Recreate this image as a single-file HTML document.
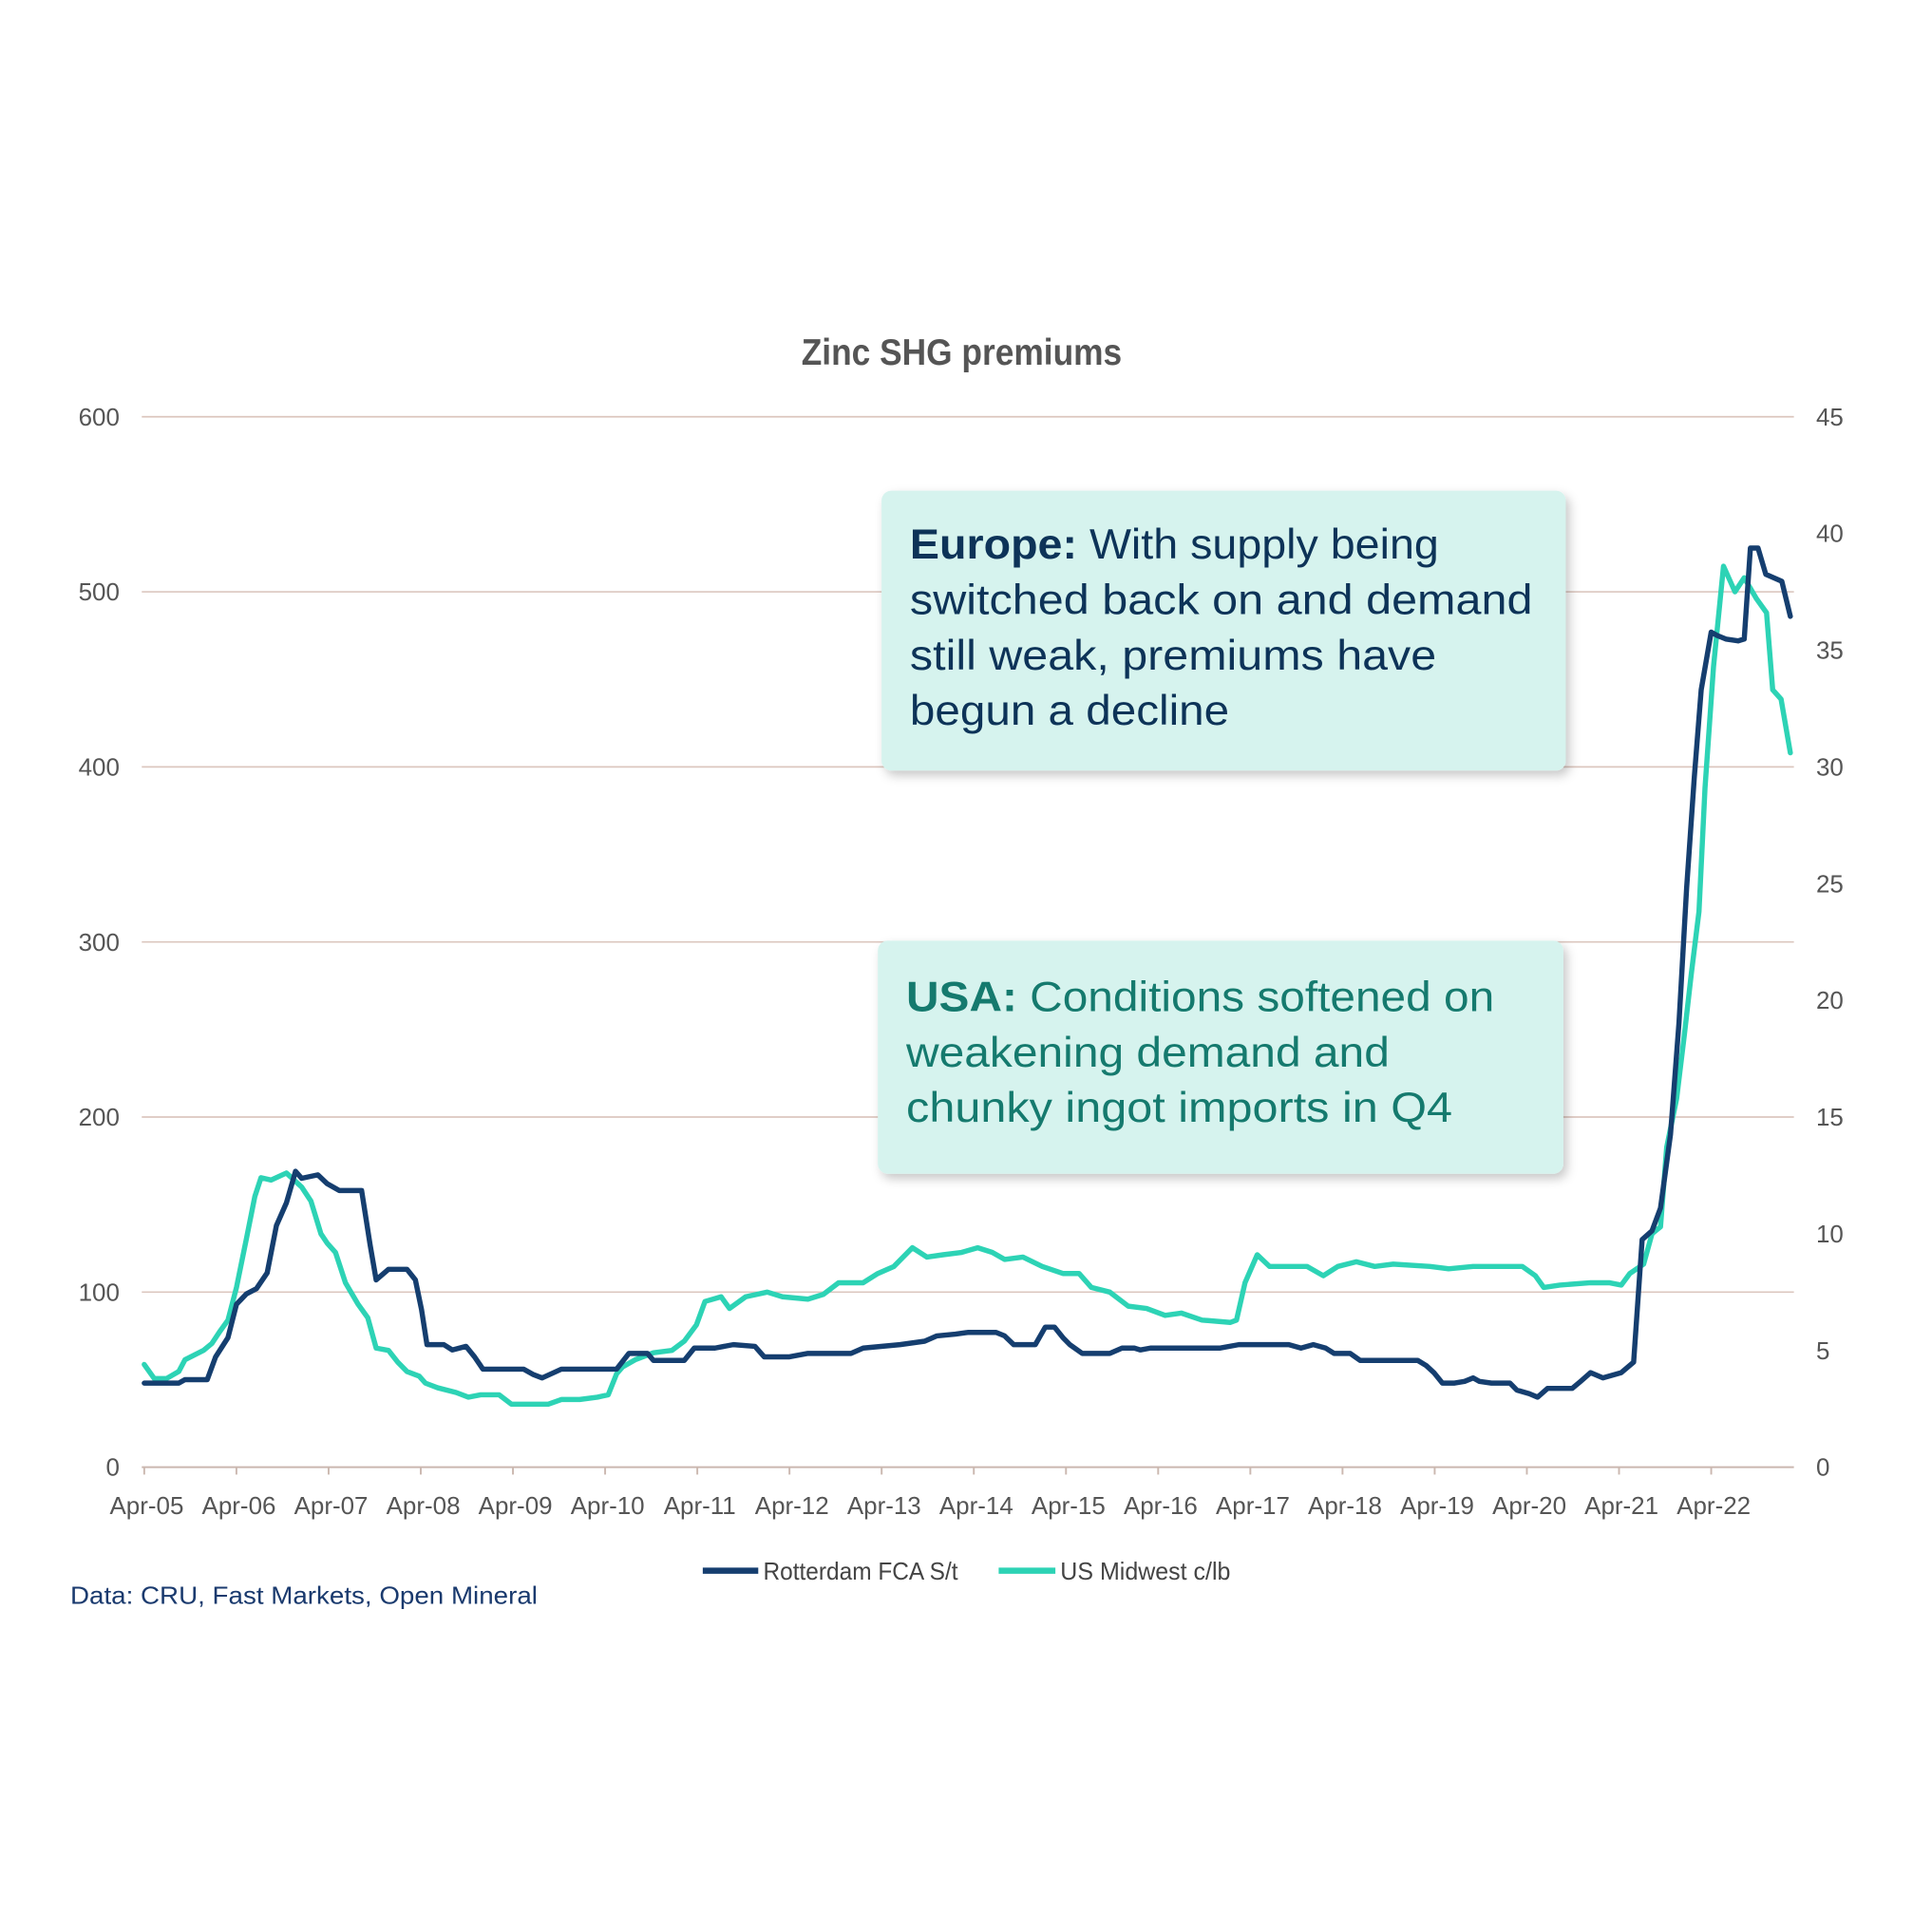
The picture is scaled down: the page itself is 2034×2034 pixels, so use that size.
<!DOCTYPE html>
<html><head><meta charset="utf-8"><style>
html,body{margin:0;padding:0;background:#fff;}
svg{display:block;font-family:"Liberation Sans",sans-serif;}
</style></head><body>
<svg id="chart" width="2034" height="2034" viewBox="0 0 1567 1567" xmlns="http://www.w3.org/2000/svg">
<defs>
<filter id="sh" x="-5%" y="-5%" width="115%" height="120%"><feDropShadow dx="3" dy="4" stdDeviation="4" flood-color="#000" flood-opacity="0.22"/></filter>
</defs>
<rect width="1567" height="1567" fill="#fff"/>
<text x="650" y="296" font-size="30" fill="#555" font-weight="600" textLength="260" lengthAdjust="spacingAndGlyphs" font-family="Liberation Sans Narrow, Liberation Sans, sans-serif">Zinc SHG premiums</text>
<g id="grid"></g>
<g id="axes"></g>
<g id="series"></g>
<g>
<rect x="715" y="398" width="555" height="227" rx="8" fill="#d6f3ee" filter="url(#sh)"/>
<text x="738" y="453" font-size="34" fill="#0d3358" textLength="429" lengthAdjust="spacingAndGlyphs"><tspan font-weight="bold">Europe:</tspan> With supply being</text>
<text x="738" y="498" font-size="34" fill="#0d3358" textLength="505" lengthAdjust="spacingAndGlyphs">switched back on and demand</text>
<text x="738" y="543" font-size="34" fill="#0d3358" textLength="427" lengthAdjust="spacingAndGlyphs">still weak, premiums have</text>
<text x="738" y="588" font-size="34" fill="#0d3358" textLength="259" lengthAdjust="spacingAndGlyphs">begun a decline</text>
</g>
<g>
<rect x="712" y="763" width="556" height="189" rx="8" fill="#d6f3ee" filter="url(#sh)"/>
<text x="735" y="820" font-size="34" fill="#157a6e" textLength="477" lengthAdjust="spacingAndGlyphs"><tspan font-weight="bold">USA:</tspan> Conditions softened on</text>
<text x="735" y="865" font-size="34" fill="#157a6e" textLength="392" lengthAdjust="spacingAndGlyphs">weakening demand and</text>
<text x="735" y="910" font-size="34" fill="#157a6e" textLength="443" lengthAdjust="spacingAndGlyphs">chunky ingot imports in Q4</text>
</g>
<g>
<line x1="570" y1="1274" x2="615" y2="1274" stroke="#153e6f" stroke-width="5"/>
<text x="619" y="1281" font-size="20" fill="#444" textLength="158" lengthAdjust="spacingAndGlyphs" font-family="Liberation Sans Narrow, Liberation Sans, sans-serif">Rotterdam FCA S/t</text>
<line x1="810" y1="1274" x2="856" y2="1274" stroke="#2dd3b5" stroke-width="5"/>
<text x="860" y="1281" font-size="20" fill="#444" textLength="138" lengthAdjust="spacingAndGlyphs" font-family="Liberation Sans Narrow, Liberation Sans, sans-serif">US Midwest c/lb</text>
</g>
<text x="57" y="1301" font-size="20" fill="#1a3a6e" textLength="379" lengthAdjust="spacingAndGlyphs">Data: CRU, Fast Markets, Open Mineral</text>
</svg>
<script>
const xLabels=["Apr-05","Apr-06","Apr-07","Apr-08","Apr-09","Apr-10","Apr-11","Apr-12","Apr-13","Apr-14","Apr-15","Apr-16","Apr-17","Apr-18","Apr-19","Apr-20","Apr-21","Apr-22"];
const leftTicks=[0,100,200,300,400,500,600];
const rightTicks=[0,5,10,15,20,25,30,35,40,45];
const rotMonths=[0,4.5,5.3,8.2,9.3,10.9,12,13.3,14.6,16,17.2,18.5,19.7,20.5,22.6,23.8,25.4,28.3,29.4,30.2,31.8,34.2,35.3,36.1,36.8,39,40.1,41.9,43,44.1,49.4,50.6,51.8,54.3,61.5,63.1,65.5,66.3,70.3,71.6,74.3,76.7,79.5,80.7,84,86.4,92,93.6,98.4,101.6,103.2,105.6,107.2,110.9,112,113.2,116,117.3,118.5,119.6,120.5,122.1,125.7,127.3,128.9,129.7,131,140,142.5,149,150.6,152.2,153.8,154.9,157,158.3,165.8,166.9,167.9,169,170.6,171.9,173,173.8,175.4,177.8,178.7,180.3,181.4,182.7,185.9,187,188.3,189.9,192.3,193.9,195,196.3,197.4,198.7,199.8,200.8,201.8,202.7,204,204.8,205.9,207.5,208.3,209.1,210.1,211.1,213.2,214.3];
const rotValues=[48,48,50,50,63,74,93,99,102,111,138,151,169,165,167,162,158,158,127,107,113,113,107,90,70,70,67,69,63,56,56,53,51,56,56,65,65,61,61,68,68,70,69,63,63,65,65,68,70,72,75,76,77,77,75,70,70,80,80,74,70,65,65,68,68,67,68,68,70,70,68,70,68,65,65,61,61,58,54,48,48,49,51,49,48,48,44,42,40,45,45,49,54,51,54,60,130,135,148,190,254,331,394,444,477,475,473,472,473,525,525,510,506,486];
const usMonths=[0,1.3,2.9,4.5,5.3,7.7,8.8,9.8,10.9,12,13.3,14.4,15.2,16.5,18.5,20.5,21.7,23,23.8,24.9,26.2,27.8,29.1,30.2,31.8,33,34.2,35.8,36.6,38.2,40.6,42.2,43.8,46.2,47.8,52.6,54.3,56.7,59,60.4,61.5,62.3,63.9,66.3,68.7,70.3,71.9,73,75.1,76.2,78.3,81.1,83.1,86.4,88.4,90.4,93.6,95.5,97.6,100,101.9,104,106.4,108.5,110.4,112,114.4,116.9,119.6,121.7,123.3,125.7,128.1,130.5,132.9,135,137.7,141.4,142.2,143.3,144.9,146.5,151.4,153.5,155.4,157.8,160.2,162.6,167.4,169.8,173,179.4,181.1,182.2,184.3,188.3,190.7,192.3,193.4,195.2,196.3,197.4,198.2,199.5,200.5,201.4,202.4,203.2,204.3,205.6,207.1,208.3,209.9,211.2,212,213.1,214.3];
const usValues=[4.4,3.8,3.8,4.1,4.6,5.0,5.3,5.8,6.3,7.7,9.8,11.6,12.4,12.3,12.6,12.0,11.4,10.0,9.6,9.2,7.9,7.0,6.4,5.1,5.0,4.5,4.1,3.9,3.6,3.4,3.2,3.0,3.1,3.1,2.7,2.7,2.9,2.9,3.0,3.1,4.0,4.3,4.6,4.9,5.0,5.4,6.1,7.1,7.3,6.8,7.3,7.5,7.3,7.2,7.4,7.9,7.9,8.3,8.6,9.4,9.0,9.1,9.2,9.4,9.2,8.9,9.0,8.6,8.3,8.3,7.7,7.5,6.9,6.8,6.5,6.6,6.3,6.2,6.3,7.9,9.1,8.6,8.6,8.2,8.6,8.8,8.6,8.7,8.6,8.5,8.6,8.6,8.2,7.7,7.8,7.9,7.9,7.8,8.3,8.7,10.0,10.3,13.7,15.8,18.5,21.1,23.8,29.1,34.3,38.6,37.5,38.1,37.2,36.6,33.3,32.9,30.6];

const NS="http://www.w3.org/2000/svg";
const X0=117, YR=74.76, Y0=1190, YTOP=338;
const xScale=m=>X0+m/12*YR;
const yLeft=v=>Y0-(v/600)*(Y0-YTOP);
const yRight=v=>Y0-(v/45)*(Y0-YTOP);
function mk(tag,attrs,parent){const e=document.createElementNS(NS,tag);for(const k in attrs)e.setAttribute(k,attrs[k]);parent.appendChild(e);return e;}
const grid=document.getElementById('grid'), axes=document.getElementById('axes'), series=document.getElementById('series');
leftTicks.forEach(v=>{
  const y=yLeft(v);
  if(v>0){const g=mk('line',{x1:115,x2:1455,y1:y,y2:y,stroke:'#dcc7bf','stroke-width':1.3},grid);
  
  }
  const t=mk('text',{x:97,y:y+7,'text-anchor':'end','font-size':20,fill:'#555','font-family':'Liberation Sans Narrow, Liberation Sans, sans-serif'},axes);
  t.textContent=v;
  
  
});
rightTicks.forEach(v=>{
  const t=mk('text',{x:1473,y:yRight(v)+7,'font-size':20,fill:'#555','font-family':'Liberation Sans Narrow, Liberation Sans, sans-serif'},axes);
  t.textContent=v;
  
  
});
const ax=mk('line',{x1:115,x2:1455,y1:Y0,y2:Y0,stroke:'#cbb8b0','stroke-width':1.5},axes);


xLabels.forEach((l,i)=>{
  const x=xScale(i*12);
  mk('line',{x1:x,x2:x,y1:Y0,y2:Y0+6,stroke:'#cbb8b0','stroke-width':1.5},axes);
  const t=mk('text',{x:x+2,y:1228,'text-anchor':'middle','font-size':20,fill:'#555','font-family':'Liberation Sans Narrow, Liberation Sans, sans-serif'},axes);
  t.textContent=l;
  
  
});
function line(ms,vs,ys,color,name){
  const d=ms.map((m,i)=>(i?'L':'M')+xScale(m).toFixed(1)+','+ys(vs[i]).toFixed(1)).join('');
  const p=mk('path',{d:d,fill:'none',stroke:color,'stroke-width':4.2,'stroke-linejoin':'round','stroke-linecap':'round'},series);
  
  
}
line(usMonths,usValues,yRight,'#2dd3b5','us-midwest-line');
line(rotMonths,rotValues,yLeft,'#153e6f','rotterdam-line');
</script>
</body></html>
